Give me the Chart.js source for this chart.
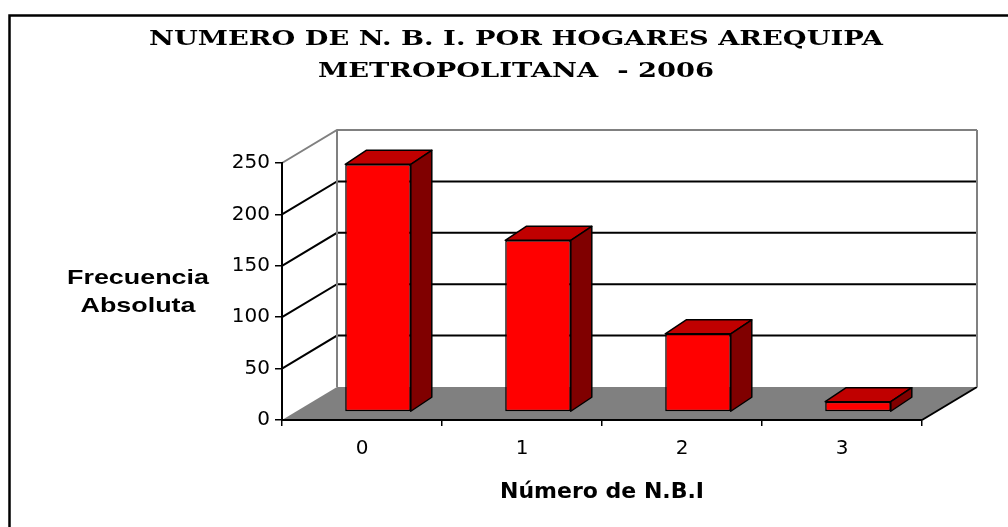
<!DOCTYPE html>
<html>
<head>
<meta charset="utf-8">
<script src="https://cdn.jsdelivr.net/npm/chart.js"></script>
<style>
  body { margin: 0; background: #fff; }
  #wrap { width: 1008px; height: 527px; }
</style>
</head>
<body>
<div id="wrap"><canvas id="myChart"></canvas></div>
<script>
    const categories = ['0', '1', '2', '3'];
    const frecuencia = [241, 167, 76, 10];
    const yTicks = [0, 50, 100, 150, 200, 250];
    const titleLines = ['NUMERO DE N. B. I. POR HOGARES AREQUIPA', 'METROPOLITANA  - 2006'];

    // 3D look: depth of the floor / walls and of the bars
    const depth = { x: 55, y: -33 };
    const barFront = { x: 16, y: -8 };
    const barDepth = { x: 21, y: -14 };

    const threeD = {
        id: 'threeD',
        beforeDraw(chart) {
            const ctx = chart.ctx;
            const a = chart.chartArea;
            const yS = chart.scales.y;
            const y0 = yS.getPixelForValue(0);
            const yTop = yS.getPixelForValue(250);
            ctx.save();
            // floor
            ctx.fillStyle = '#808080';
            ctx.beginPath();
            ctx.moveTo(a.left, y0);
            ctx.lineTo(a.right, y0);
            ctx.lineTo(a.right + depth.x, y0 + depth.y);
            ctx.lineTo(a.left + depth.x, y0 + depth.y);
            ctx.closePath();
            ctx.fill();
            ctx.strokeStyle = '#000';
            ctx.lineWidth = 2;
            ctx.beginPath();
            ctx.moveTo(a.right, y0);
            ctx.lineTo(a.right + depth.x, y0 + depth.y);
            ctx.stroke();
            // grid lines on side wall and back wall
            yTicks.forEach(v => {
                if (v === 0) return;
                const py = yS.getPixelForValue(v);
                ctx.strokeStyle = v === 250 ? '#808080' : '#000';
                ctx.lineWidth = 2;
                ctx.beginPath();
                ctx.moveTo(a.left, py);
                ctx.lineTo(a.left + depth.x, py + depth.y);
                ctx.lineTo(a.right + depth.x, py + depth.y);
                ctx.stroke();
            });
            // back wall edges
            ctx.strokeStyle = '#808080';
            ctx.lineWidth = 2;
            ctx.beginPath();
            ctx.moveTo(a.left + depth.x, yTop + depth.y);
            ctx.lineTo(a.left + depth.x, y0 + depth.y);
            ctx.moveTo(a.right + depth.x, yTop + depth.y);
            ctx.lineTo(a.right + depth.x, y0 + depth.y);
            ctx.stroke();
            ctx.restore();
        },
        beforeDatasetsDraw(chart) {
            chart.ctx.save();
            chart.ctx.translate(barFront.x, barFront.y);
        },
        afterDatasetsDraw(chart) {
            const ctx = chart.ctx;
            ctx.restore();
            ctx.save();
            ctx.strokeStyle = '#000';
            ctx.lineWidth = 1.5;
            ctx.lineJoin = 'round';
            chart.getDatasetMeta(0).data.forEach(bar => {
                const l = bar.x - bar.width / 2 + barFront.x;
                const r = bar.x + bar.width / 2 + barFront.x;
                const t = bar.y + barFront.y;
                const b = bar.base + barFront.y;
                // top
                ctx.fillStyle = '#c00000';
                ctx.beginPath();
                ctx.moveTo(l, t);
                ctx.lineTo(l + barDepth.x, t + barDepth.y);
                ctx.lineTo(r + barDepth.x, t + barDepth.y);
                ctx.lineTo(r, t);
                ctx.closePath();
                ctx.fill();
                ctx.stroke();
                // side
                ctx.fillStyle = '#800000';
                ctx.beginPath();
                ctx.moveTo(r, t);
                ctx.lineTo(r + barDepth.x, t + barDepth.y);
                ctx.lineTo(r + barDepth.x, b + barDepth.y);
                ctx.lineTo(r, b);
                ctx.closePath();
                ctx.fill();
                ctx.stroke();
            });
            ctx.restore();
        },
        afterDraw(chart) {
            const ctx = chart.ctx;
            // title, a bit stretched like the original
            ctx.save();
            ctx.fillStyle = '#000';
            ctx.font = 'bold 21px "DejaVu Serif", serif';
            ctx.textAlign = 'center';
            ctx.textBaseline = 'middle';
            ctx.translate(516, 0);
            ctx.scale(1.3, 1);
            ctx.fillText(titleLines[0], 0, 40);
            ctx.fillText(titleLines[1], 0, 72);
            ctx.restore();
            // y axis title, horizontal
            ctx.save();
            ctx.fillStyle = '#000';
            ctx.font = 'bold 21px "Liberation Sans", Arial, sans-serif';
            ctx.textAlign = 'center';
            ctx.textBaseline = 'alphabetic';
            ctx.translate(138, 0);
            ctx.scale(1.28, 1);
            ctx.fillText('Frecuencia', 0, 284);
            ctx.fillText('Absoluta', 0, 312);
            ctx.restore();
            // outer frame
            ctx.save();
            ctx.strokeStyle = '#000';
            ctx.lineWidth = 2.5;
            ctx.strokeRect(9.5, 15.5, 1020, 540);
            ctx.restore();
        }
    };

    const data = {
        labels: categories,
        datasets: [{
            data: frecuencia,
            backgroundColor: '#ff0000',
            borderColor: '#000',
            borderWidth: 1.5,
            borderSkipped: false,
            categoryPercentage: 1,
            barPercentage: 0.41,
            clip: false
        }]
    };

    const config = {
        type: 'bar',
        data: data,
        plugins: [threeD],
        options: {
            responsive: true,
            maintainAspectRatio: false,
            animation: false,
            layout: { padding: { left: 110, right: 86, top: 163, bottom: 0 } },
            plugins: {
                legend: { display: false },
                tooltip: { enabled: false },
                title: { display: false }
            },
            scales: {
                x: {
                    afterFit(scale) { scale.height = 107; },
                    grid: { drawOnChartArea: false, drawTicks: true, tickLength: 6, color: '#000', lineWidth: 1.5, offset: true },
                    border: { display: true, color: '#000', width: 2 },
                    ticks: { color: '#000', padding: 11, font: { family: '"DejaVu Sans", sans-serif', size: 20 } },
                    title: {
                        display: true,
                        text: 'Número de N.B.I',
                        color: '#000',
                        font: { family: '"DejaVu Sans", sans-serif', size: 22, weight: 'bold' },
                        padding: { top: 0, bottom: 22 }
                    }
                },
                y: {
                    min: 0,
                    max: 250,
                    afterFit(scale) { scale.width = 172; },
                    afterBuildTicks(scale) { scale.ticks = yTicks.map(v => ({ value: v })); },
                    grid: { drawOnChartArea: false, drawTicks: true, tickLength: 7, color: '#000', lineWidth: 1.5 },
                    border: { display: true, color: '#000', width: 2 },
                    ticks: { color: '#000', padding: 5, font: { family: '"DejaVu Sans", sans-serif', size: 20 } }
                }
            }
        }
    };

    const myChart = new Chart(document.getElementById('myChart'), config);
</script>
</body>
</html>
